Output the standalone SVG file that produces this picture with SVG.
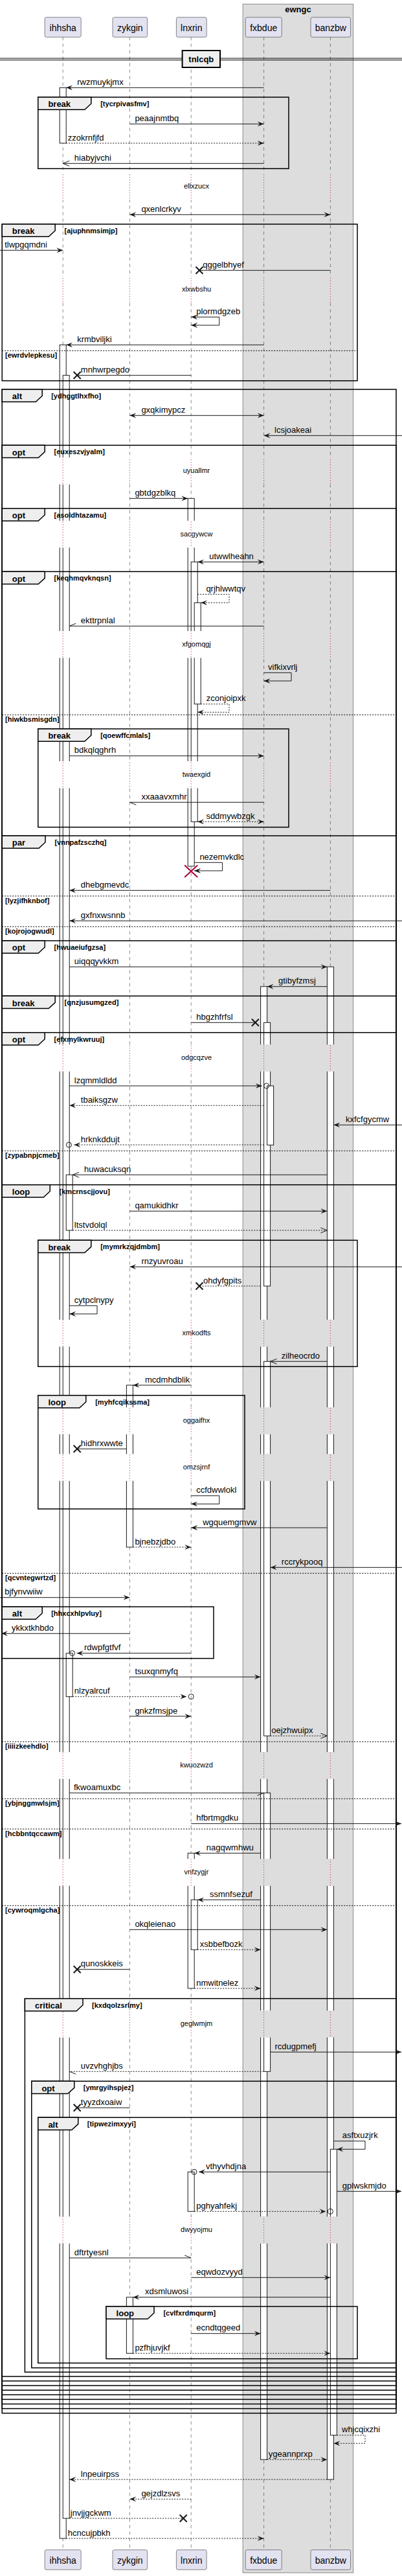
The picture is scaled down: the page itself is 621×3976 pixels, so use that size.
<svg xmlns="http://www.w3.org/2000/svg" width="621" height="3976" viewBox="0 0 621 3976">
<defs>
<style>
.pb{fill:#E2E2F0;stroke:#181818;stroke-width:0.5}
.pt{font-family:"Liberation Sans",Arial,sans-serif;font-size:14px;text-anchor:middle;fill:#000}
.ll{stroke:#181818;stroke-width:0.5;stroke-dasharray:5 5;fill:none}
.dl{stroke:#A80036;stroke-width:1;stroke-dasharray:1 3;fill:none}
.act{fill:#fff;stroke:#181818;stroke-width:1}
.fr{fill:none;stroke:#000;stroke-width:1.5}
.tab{fill:#EEEEEE;stroke:#000;stroke-width:1.5}
.sep{stroke:#000;stroke-width:1;stroke-dasharray:2 2;fill:none}
.fl{font-family:"Liberation Sans",Arial,sans-serif;font-size:13px;font-weight:bold;fill:#000}
.gd{font-family:"Liberation Sans",Arial,sans-serif;font-size:11px;font-weight:bold;fill:#000}
.ms{font-family:"Liberation Sans",Arial,sans-serif;font-size:13px;fill:#000}
.dt{font-family:"Liberation Sans",Arial,sans-serif;font-size:11px;text-anchor:middle;fill:#000}
.c{fill:none;stroke:#181818;stroke-width:1}
.d{stroke-dasharray:2 2}
.x{stroke:#181818;stroke-width:2;fill:none}
.oc{fill:none;stroke:#181818;stroke-width:1}
</style>
<marker id="af" viewBox="0 0 10 8" refX="10" refY="4" markerWidth="10" markerHeight="8" markerUnits="userSpaceOnUse" orient="auto-start-reverse"><path d="M0 0L10 4L0 8L4 4Z" fill="#181818"/></marker>
<marker id="ao" viewBox="0 0 10 8" refX="10" refY="4" markerWidth="10" markerHeight="8" markerUnits="userSpaceOnUse" orient="auto" overflow="visible"><path d="M0 0L10 4L0 8" fill="none" stroke="#181818" stroke-width="1"/></marker>
<marker id="ht" viewBox="0 0 10 8" refX="10" refY="4" markerWidth="10" markerHeight="8" markerUnits="userSpaceOnUse" orient="auto" overflow="visible"><path d="M0 0L10 4" fill="none" stroke="#181818" stroke-width="1"/></marker>
<marker id="hb" viewBox="0 0 10 8" refX="10" refY="4" markerWidth="10" markerHeight="8" markerUnits="userSpaceOnUse" orient="auto" overflow="visible"><path d="M0 8L10 4" fill="none" stroke="#181818" stroke-width="1"/></marker>
<clipPath id="nd" clipPathUnits="userSpaceOnUse">
<rect x="0" y="0" width="621" height="267.3"/>
<rect x="0" y="308.8" width="621" height="117.2"/>
<rect x="0" y="467.5" width="621" height="238.8"/>
<rect x="0" y="747.8" width="621" height="55.9"/>
<rect x="0" y="845.2" width="621" height="128.8"/>
<rect x="0" y="1015.5" width="621" height="159.5"/>
<rect x="0" y="1216.5" width="621" height="395.8"/>
<rect x="0" y="1653.8" width="621" height="383.2"/>
<rect x="0" y="2078.5" width="621" height="93.8"/>
<rect x="0" y="2213.8" width="621" height="30.5"/>
<rect x="0" y="2285.8" width="621" height="418.5"/>
<rect x="0" y="2745.8" width="621" height="123.5"/>
<rect x="0" y="2910.8" width="621" height="192.5"/>
<rect x="0" y="3144.8" width="621" height="276.5"/>
<rect x="0" y="3462.8" width="621" height="513.2"/>
</clipPath>
<clipPath id="dz" clipPathUnits="userSpaceOnUse">
<rect x="0" y="267.3" width="621" height="41.5"/>
<rect x="0" y="426" width="621" height="41.5"/>
<rect x="0" y="706.3" width="621" height="41.5"/>
<rect x="0" y="803.7" width="621" height="41.5"/>
<rect x="0" y="974" width="621" height="41.5"/>
<rect x="0" y="1175" width="621" height="41.5"/>
<rect x="0" y="1612.3" width="621" height="41.5"/>
<rect x="0" y="2037" width="621" height="41.5"/>
<rect x="0" y="2172.3" width="621" height="41.5"/>
<rect x="0" y="2244.3" width="621" height="41.5"/>
<rect x="0" y="2704.3" width="621" height="41.5"/>
<rect x="0" y="2869.3" width="621" height="41.5"/>
<rect x="0" y="3103.3" width="621" height="41.5"/>
<rect x="0" y="3421.3" width="621" height="41.5"/>
</clipPath>
</defs>
<rect x="0" y="0" width="621" height="3976" fill="#fff"/>
<g id="box-ewngc">
<rect x="375.2" y="6.3" width="170.4" height="3964.7" fill="#DDDDDD" stroke="#888" stroke-width="1"/>
<text class="fl" x="460.4" y="19" text-anchor="middle">ewngc</text>
</g>
<g id="lifelines">
<g clip-path="url(#nd)">
<line class="ll" x1="97.2" y1="57.3" x2="97.2" y2="3935.7"/>
<line class="ll" x1="200.4" y1="57.3" x2="200.4" y2="3935.7"/>
<line class="ll" x1="295.2" y1="57.3" x2="295.2" y2="3935.7"/>
<line class="ll" x1="407.6" y1="57.3" x2="407.6" y2="3935.7"/>
<line class="ll" x1="510.4" y1="57.3" x2="510.4" y2="3935.7"/>
</g>
<g clip-path="url(#dz)">
<line class="dl" x1="97.2" y1="57.3" x2="97.2" y2="3935.7"/>
<line class="dl" x1="200.4" y1="57.3" x2="200.4" y2="3935.7"/>
<line class="dl" x1="295.2" y1="57.3" x2="295.2" y2="3935.7"/>
<line class="dl" x1="407.6" y1="57.3" x2="407.6" y2="3935.7"/>
<line class="dl" x1="510.4" y1="57.3" x2="510.4" y2="3935.7"/>
</g>
<g id="delays">
<text class="dt" x="303.5" y="291.3">ellxzucx</text>
<text class="dt" x="303.5" y="450">xlxwbshu</text>
<text class="dt" x="303.5" y="730.3">uyuallmr</text>
<text class="dt" x="303.5" y="827.7">sacgywcw</text>
<text class="dt" x="303.5" y="998">xfgomqgj</text>
<text class="dt" x="303.5" y="1199">twaexgid</text>
<text class="dt" x="303.5" y="1636.3">odgcqzve</text>
<text class="dt" x="303.5" y="2061">xmkodfts</text>
<text class="dt" x="303.5" y="2196.3">oggaifhx</text>
<text class="dt" x="303.5" y="2268.3">omzsjrnf</text>
<text class="dt" x="303.5" y="2728.3">kwuozwzd</text>
<text class="dt" x="303.5" y="2893.3">vnfzygjr</text>
<text class="dt" x="303.5" y="3127.3">geglwmjm</text>
<text class="dt" x="303.5" y="3445.3">dwyyojmu</text>
</g>
</g>
<g id="activations" clip-path="url(#nd)">
<rect class="act" x="92.2" y="135.3" width="10" height="85.7"/>
<rect class="act" x="92.2" y="532.3" width="10" height="3385.7"/>
<rect class="act" x="97.2" y="579.3" width="10" height="3307.7"/>
<rect class="act" x="102.2" y="1813.3" width="10" height="85.7"/>
<rect class="act" x="102.2" y="2551.7" width="10" height="67"/>
<rect class="act" x="195.4" y="2138" width="10" height="250"/>
<rect class="act" x="195.4" y="3545.7" width="10" height="86.6"/>
<rect class="act" x="290.2" y="769.3" width="10" height="567.7"/>
<rect class="act" x="295.2" y="867.3" width="10" height="401"/>
<rect class="act" x="300.2" y="930.3" width="10" height="156.4"/>
<rect class="act" x="290.2" y="2860.3" width="10" height="208.7"/>
<rect class="act" x="295.2" y="2932.3" width="10" height="77"/>
<rect class="act" x="290.2" y="3352.3" width="10" height="61"/>
<rect class="act" x="402.6" y="1522.7" width="10" height="2273.6"/>
<rect class="act" x="407.6" y="1578.3" width="10" height="406.7"/>
<rect class="act" x="412.6" y="1676" width="10" height="91.3"/>
<rect class="act" x="407.6" y="2101.3" width="10" height="578"/>
<rect class="act" x="407.6" y="2767.3" width="10" height="430"/>
<rect class="act" x="505.4" y="1492.3" width="10" height="2334.7"/>
<rect class="act" x="510.4" y="3317.3" width="10" height="441.4"/>
</g>
<g id="divider-tnlcqb">
<line x1="0" y1="90" x2="621" y2="90" stroke="#000" stroke-width="1"/>
<line x1="0" y1="92.7" x2="621" y2="92.7" stroke="#000" stroke-width="1"/>
<rect x="281.6" y="78" width="58.4" height="26" fill="#EEEEEE" stroke="#000" stroke-width="2"/>
<text class="fl" x="310.8" y="96.3" text-anchor="middle">tnlcqb</text>
</g>
<g id="frames">
<g id="f1"><rect class="fr" x="58.8" y="150" width="387.2" height="110.3"/><path class="tab" d="M58.8 150H140.8V160L130.8 169.3H58.8Z"/><text class="fl" x="74.4" y="165.3">break</text><text class="gd" x="155.2" y="164">[tycrpivasfmv]</text></g>
<g id="f2"><rect class="fr" x="3.2" y="346" width="548.8" height="241.7"/><path class="tab" d="M3.2 346H85.2V356L75.2 365.3H3.2Z"/><text class="fl" x="18.8" y="361.3">break</text><text class="gd" x="99.6" y="360">[ajuphnmsimjp]</text><line class="sep" x1="3.2" y1="541.3" x2="552" y2="541.3"/><text class="gd" x="8" y="552.3">[ewrdvlepkesu]</text></g>
<g id="f3"><rect class="fr" x="3.2" y="601" width="608.8" height="3123.7"/><path class="tab" d="M3.2 601H65.2V611L55.2 620.3H3.2Z"/><text class="fl" x="18.8" y="616.3">alt</text><text class="gd" x="79.2" y="615">[ydhggtlhxfho]</text></g>
<g id="f4"><rect class="fr" x="3.2" y="687.3" width="608.8" height="3030.3"/><path class="tab" d="M3.2 687.3H69.2V697.3L59.2 706.6H3.2Z"/><text class="fl" x="18.8" y="702.6">opt</text><text class="gd" x="83.6" y="701.3">[euxeszvjyalm]</text></g>
<g id="f5"><rect class="fr" x="3.2" y="784.7" width="608.8" height="2925.8"/><path class="tab" d="M3.2 784.7H69.2V794.7L59.2 804H3.2Z"/><text class="fl" x="18.8" y="800">opt</text><text class="gd" x="83.6" y="798.7">[asoldhtazamu]</text></g>
<g id="f6"><rect class="fr" x="3.2" y="882.3" width="608.8" height="2821.1"/><path class="tab" d="M3.2 882.3H69.2V892.3L59.2 901.6H3.2Z"/><text class="fl" x="18.8" y="897.6">opt</text><text class="gd" x="83.6" y="896.3">[keqhmqvknqsn]</text><line class="sep" x1="3.2" y1="1103.3" x2="612" y2="1103.3"/><text class="gd" x="8" y="1114.3">[hiwkbsmisgdn]</text></g>
<g id="f7"><rect class="fr" x="58.8" y="1125" width="387.2" height="151.7"/><path class="tab" d="M58.8 1125H140.8V1135L130.8 1144.3H58.8Z"/><text class="fl" x="74.4" y="1140.3">break</text><text class="gd" x="155.2" y="1139">[qoewffcmlals]</text></g>
<g id="f8"><rect class="fr" x="3.2" y="1290" width="608.8" height="2406.3"/><path class="tab" d="M3.2 1290H70V1300L60 1309.3H3.2Z"/><text class="fl" x="18.8" y="1305.3">par</text><text class="gd" x="84.4" y="1304">[vnnpafzsczhq]</text><line class="sep" x1="3.2" y1="1383" x2="612" y2="1383"/><text class="gd" x="8" y="1394">[lyzjifhknbof]</text><line class="sep" x1="3.2" y1="1430.3" x2="612" y2="1430.3"/><text class="gd" x="8" y="1441.3">[kojrojogwudl]</text></g>
<g id="f9"><rect class="fr" x="3.2" y="1452" width="608.8" height="2237.2"/><path class="tab" d="M3.2 1452H69.2V1462L59.2 1471.3H3.2Z"/><text class="fl" x="18.8" y="1467.3">opt</text><text class="gd" x="83.6" y="1466">[hwuaeiufgzsa]</text></g>
<g id="f10"><rect class="fr" x="3.2" y="1537.3" width="608.8" height="2144.8"/><path class="tab" d="M3.2 1537.3H85.2V1547.3L75.2 1556.6H3.2Z"/><text class="fl" x="18.8" y="1552.6">break</text><text class="gd" x="99.6" y="1551.3">[qnzjusumgzed]</text></g>
<g id="f11"><rect class="fr" x="3.2" y="1593.7" width="608.8" height="2081.3"/><path class="tab" d="M3.2 1593.7H69.2V1603.7L59.2 1613H3.2Z"/><text class="fl" x="18.8" y="1609">opt</text><text class="gd" x="83.6" y="1607.7">[efxmylkwruuj]</text><line class="sep" x1="3.2" y1="1776.3" x2="612" y2="1776.3"/><text class="gd" x="8" y="1787.3">[zypabnpjcmeb]</text></g>
<g id="f12"><rect class="fr" x="3.2" y="1828.7" width="608.8" height="1839.3"/><path class="tab" d="M3.2 1828.7H77.2V1838.7L67.2 1848H3.2Z"/><text class="fl" x="18.8" y="1844">loop</text><text class="gd" x="91.6" y="1842.7">[kmcrnscjjovu]</text>
<line class="sep" x1="3.2" y1="2428.3" x2="612" y2="2428.3"/><text class="gd" x="8" y="2439.3">[qcvntegwrtzd]</text>
<line class="sep" x1="3.2" y1="2688.3" x2="612" y2="2688.3"/><text class="gd" x="8" y="2699.3">[iiiizkeehdlo]</text>
<line class="sep" x1="3.2" y1="2776.3" x2="612" y2="2776.3"/><text class="gd" x="8" y="2787.3">[ybjnggmwlsjm]</text>
<line class="sep" x1="3.2" y1="2823" x2="612" y2="2823"/><text class="gd" x="8" y="2834">[hcbbntqccawm]</text>
<line class="sep" x1="3.2" y1="2941.3" x2="612" y2="2941.3"/><text class="gd" x="8" y="2952.3">[cywroqmlgcha]</text></g>
<g id="f13"><rect class="fr" x="58.8" y="1914.3" width="493.2" height="195"/><path class="tab" d="M58.8 1914.3H140.8V1924.3L130.8 1933.6H58.8Z"/><text class="fl" x="74.4" y="1929.6">break</text><text class="gd" x="155.2" y="1928.3">[mymrkzqjdmbm]</text></g>
<g id="f14"><rect class="fr" x="58.8" y="2153.7" width="319.2" height="175.3"/><path class="tab" d="M58.8 2153.7H132.8V2163.7L122.8 2173H58.8Z"/><text class="fl" x="74.4" y="2169">loop</text><text class="gd" x="147.2" y="2167.7">[myhfcqikssma]</text></g>
<g id="f15"><rect class="fr" x="3.2" y="2480" width="326.8" height="79.7"/><path class="tab" d="M3.2 2480H65.2V2490L55.2 2499.3H3.2Z"/><text class="fl" x="18.8" y="2495.3">alt</text><text class="gd" x="79.2" y="2494">[hhxcxhlpvluy]</text></g>
<g id="f16"><rect class="fr" x="38.4" y="3084.7" width="573.6" height="576.6"/><path class="tab" d="M38.4 3084.7H128V3094.7L118 3104H38.4Z"/><text class="fl" x="54" y="3100">critical</text><text class="gd" x="142" y="3098.7">[kxdqolzsrlmy]</text></g>
<g id="f17"><rect class="fr" x="48.8" y="3212.3" width="563.2" height="442.4"/><path class="tab" d="M48.8 3212.3H114.8V3222.3L104.8 3231.6H48.8Z"/><text class="fl" x="64.4" y="3227.6">opt</text><text class="gd" x="128.8" y="3226.3">[ymrgyihspjez]</text></g>
<g id="f18"><rect class="fr" x="58.8" y="3268.3" width="553.2" height="379"/><path class="tab" d="M58.8 3268.3H120.8V3278.3L110.8 3287.6H58.8Z"/><text class="fl" x="74.4" y="3283.6">alt</text><text class="gd" x="134.8" y="3282.3">[tipwezimxyyi]</text></g>
<g id="f19"><rect class="fr" x="164" y="3560" width="388" height="80.7"/><path class="tab" d="M164 3560H238V3570L228 3579.3H164Z"/><text class="fl" x="179.6" y="3575.3">loop</text><text class="gd" x="252.4" y="3574">[cvlfxrdmqurm]</text></g>
</g>
<g id="connectors">
<g><path class="c" d="M407.6 135.3H102.2" marker-end="url(#af)"/><text class="ms" x="119.2" y="130.8">rwzmuykjmx</text></g>
<g><path class="c" d="M200.4 191.3H407.6" marker-end="url(#af)"/><text class="ms" x="208.4" y="186.8">peaajnmtbq</text></g>
<g><path class="c d" d="M102.2 221H407.6" marker-end="url(#af)"/><text class="ms" x="104.8" y="216.5">zzokrnfjfd</text></g>
<g><path class="c" d="M407.6 252.3H97.2" marker-end="url(#ao)"/><text class="ms" x="114.8" y="247.8">hiabyjvchi</text></g>
<g><path class="c" d="M200.4 331.3H510.4" marker-start="url(#af)" marker-end="url(#af)"/><text class="ms" x="218.4" y="326.8">qxenlcrkyv</text></g>
<g><path class="c" d="M0 386.3H97.2" marker-end="url(#af)"/><text class="ms" x="7.2" y="381.8">tlwpgqmdni</text></g>
<g><path class="c" d="M510.4 417.3H308"/><path class="x" d="M302.5 411.8l11 11m0-11l-11 11"/><text class="ms" x="313.2" y="412.8">qggelbhyef</text></g>
<g><path class="c" d="M295.2 489.3H338.8V502H295.2" marker-start="url(#af)" marker-end="url(#af)"/><text class="ms" x="303.2" y="484.8">plormdgzeb</text></g>
<g><path class="c" d="M407.6 532.3H102.2" marker-end="url(#af)"/><text class="ms" x="119.2" y="527.8">krmbviljki</text></g>
<g><path class="c" d="M295.2 579.3H119.2"/><path class="x" d="M113.7 573.8l11 11m0-11l-11 11"/><text class="ms" x="124.8" y="574.8">mnhwrpegdo</text></g>
<g><path class="c" d="M200.4 641.3H407.6" marker-start="url(#af)" marker-end="url(#af)"/><text class="ms" x="218.4" y="636.8">gxqkimypcz</text></g>
<g><path class="c" d="M621 672.3H407.6" marker-end="url(#af)"/><text class="ms" x="424" y="667.8">lcsjoakeai</text></g>
<g><path class="c" d="M200.4 769.3H290.2" marker-end="url(#af)"/><text class="ms" x="208.4" y="764.8">gbtdgzblkq</text></g>
<g><path class="c" d="M305.2 867.3H407.6" marker-start="url(#af)" marker-end="url(#af)"/><text class="ms" x="323.2" y="862.8">utwwlheahn</text></g>
<g><path class="c d" d="M305.2 917.3H354V930.3H310.2" marker-end="url(#af)"/><text class="ms" x="318.4" y="912.8">qrjhlwwtqv</text></g>
<g><path class="c" d="M407.6 966.3H107.2" marker-end="url(#hb)"/><text class="ms" x="124.8" y="961.8">ekttrpnlal</text></g>
<g><path class="c" d="M407.6 1038.3H450V1051H407.6" marker-end="url(#af)"/><text class="ms" x="414" y="1033.8">vifkixvrlj</text></g>
<g><path class="c d" d="M310.2 1086.7H354V1099.3H305.2" marker-end="url(#af)"/><text class="ms" x="318.8" y="1082.2">zconjoipxk</text></g>
<g><path class="c" d="M107.2 1166.7H407.6" marker-end="url(#af)"/><text class="ms" x="114.8" y="1162.2">bdkqlqghrh</text></g>
<g><path class="c" d="M407.6 1238.3H200.4" marker-end="url(#ht)"/><text class="ms" x="218.4" y="1233.8">xxaaavxmhr</text></g>
<g><path class="c d" d="M305.2 1268.3H407.6" marker-start="url(#af)" marker-end="url(#af)"/><text class="ms" x="318.4" y="1263.8">sddmywbzgk</text></g>
<g><path class="c" d="M300.2 1331.3H343.6V1344H300.2" marker-end="url(#af)"/><text class="ms" x="308.4" y="1326.8">nezemvkdlc</text><path d="M285.2 1335.4l20 18.6m0-18.6l-20 18.6" stroke="#A80036" stroke-width="2" fill="none"/></g>
<g><path class="c" d="M510.4 1374.3H107.2" marker-end="url(#af)"/><text class="ms" x="124.8" y="1369.8">dhebgmevdc</text></g>
<g><path class="c" d="M621 1421.3H107.2" marker-end="url(#af)"/><text class="ms" x="124.8" y="1416.8">gxfnxwsnnb</text></g>
<g><path class="c" d="M107.2 1492.3H505.4" marker-end="url(#af)"/><text class="ms" x="114.8" y="1487.8">uiqqqyvkkm</text></g>
<g><path class="c" d="M505.4 1522.7H412.6" marker-end="url(#af)"/><text class="ms" x="430" y="1518.2">gtibyfzmsj</text></g>
<g><path class="c" d="M295.2 1578.3H394.4"/><path class="x" d="M388.9 1572.8l11 11m0-11l-11 11"/><text class="ms" x="303.2" y="1573.8">hbgzhfrfsl</text></g>
<g><path class="c" d="M107.2 1676H404.6" marker-end="url(#af)"/><circle class="oc" cx="411.6" cy="1676" r="4"/><text class="ms" x="114.8" y="1671.5">lzqmmldldd</text></g>
<g><path class="c d" d="M407.6 1706.3H107.2" marker-end="url(#af)"/><text class="ms" x="124.8" y="1701.8">tbaiksgzw</text></g>
<g><path class="c" d="M621 1736.3H515.4" marker-end="url(#af)"/><text class="ms" x="534" y="1731.8">kxfcfgycmw</text></g>
<g><path class="c d" d="M407.6 1767H114.4" marker-end="url(#af)"/><circle class="oc" cx="106.4" cy="1767" r="4"/><text class="ms" x="124.8" y="1762.5">hrknkddujt</text></g>
<g><path class="c" d="M505.4 1813.3H112.2" marker-end="url(#ao)"/><text class="ms" x="130" y="1808.8">huwacuksqn</text></g>
<g><path class="c" d="M200.4 1869.3H505.4" marker-end="url(#af)"/><text class="ms" x="208.4" y="1864.8">qamukidhkr</text></g>
<g><path class="c d" d="M112.2 1899H505.4" marker-end="url(#ao)"/><text class="ms" x="114.8" y="1894.5">ltstvdolql</text></g>
<g><path class="c" d="M621 1955.3H200.4" marker-end="url(#af)"/><text class="ms" x="218.4" y="1950.8">rnzyuvroau</text></g>
<g><path class="c d" d="M402.6 1985H308"/><path class="x" d="M302.5 1979.5l11 11m0-11l-11 11"/><text class="ms" x="314" y="1980.5">ohdyfgpits</text></g>
<g><path class="c" d="M107.2 2015.3H150V2028H107.2" marker-end="url(#af)"/><text class="ms" x="114.8" y="2010.8">cytpclnypy</text></g>
<g><path class="c" d="M505.4 2101.3H417.6" marker-end="url(#ao)"/><text class="ms" x="434.8" y="2096.8">zilheocrdo</text></g>
<g><path class="c" d="M295.2 2138H205.4" marker-end="url(#af)"/><text class="ms" x="224" y="2133.5">mcdmhdblik</text></g>
<g><path class="c" d="M195.4 2236.3H119.2"/><path class="x" d="M113.7 2230.8l11 11m0-11l-11 11"/><text class="ms" x="124.8" y="2231.8">hidhrxwwte</text></g>
<g><path class="c" d="M295.2 2308.7H338.8V2321.3H295.2" marker-end="url(#af)"/><text class="ms" x="303.2" y="2304.2">ccfdwwlokl</text></g>
<g><path class="c" d="M505.4 2358H295.2" marker-end="url(#af)"/><text class="ms" x="313.2" y="2353.5">wgquemgmvw</text></g>
<g><path class="c d" d="M205.4 2388H295.2" marker-end="url(#af)"/><text class="ms" x="208.4" y="2383.5">bjnebzjdbo</text></g>
<g><path class="c" d="M621 2419.3H417.6" marker-end="url(#af)"/><text class="ms" x="434.8" y="2414.8">rccrykpooq</text></g>
<g><path class="c" d="M0 2465.7H200.4" marker-end="url(#af)"/><text class="ms" x="7.2" y="2461.2">bjfynvwiiw</text></g>
<g><path class="c" d="M200.4 2521.3H2" marker-end="url(#af)"/><text class="ms" x="18" y="2516.8">ykkxtkhbdo</text></g>
<g><path class="c" d="M295.2 2551.7H118.6" marker-end="url(#af)"/><circle class="oc" cx="111.6" cy="2551.7" r="4"/><text class="ms" x="130" y="2547.2">rdwpfgtfvf</text></g>
<g><path class="c" d="M200.4 2588.3H402.6" marker-end="url(#af)"/><text class="ms" x="208.4" y="2583.8">tsuxqnmyfq</text></g>
<g><path class="c d" d="M112.2 2618.7H288.2" marker-end="url(#af)"/><circle class="oc" cx="295.2" cy="2618.7" r="4"/><text class="ms" x="114.8" y="2614.2">nlzyalrcuf</text></g>
<g><path class="c" d="M200.4 2649H295.2" marker-end="url(#af)"/><text class="ms" x="208.4" y="2644.5">gnkzfmsjpe</text></g>
<g><path class="c d" d="M417.6 2679.3H505.4" marker-end="url(#ao)"/><text class="ms" x="419.2" y="2674.8">oejzhwuipx</text></g>
<g><path class="c" d="M107.2 2767.3H407.6" marker-end="url(#hb)"/><text class="ms" x="114" y="2762.8">fkwoamuxbc</text></g>
<g><path class="c" d="M295.2 2814.7H620" marker-end="url(#af)"/><text class="ms" x="303.2" y="2810.2">hfbrtmgdku</text></g>
<g><path class="c" d="M402.6 2860.3H300.2" marker-end="url(#af)"/><text class="ms" x="318.8" y="2855.8">nagqwmhwu</text></g>
<g><path class="c" d="M402.6 2932.3H305.2" marker-end="url(#af)"/><text class="ms" x="324" y="2927.8">ssmnfsezuf</text></g>
<g><path class="c" d="M200.4 2978.3H505.4" marker-end="url(#af)"/><text class="ms" x="208.4" y="2973.8">okqleienao</text></g>
<g><path class="c d" d="M305.2 3009.3H402.6" marker-end="url(#af)"/><text class="ms" x="308.8" y="3004.8">xsbbefbozk</text></g>
<g><path class="c" d="M200.4 3039.7H119.2"/><path class="x" d="M113.7 3034.2l11 11m0-11l-11 11"/><text class="ms" x="124.8" y="3035.2">qunoskkeis</text></g>
<g><path class="c d" d="M300.2 3069H402.6" marker-end="url(#af)"/><text class="ms" x="303.2" y="3064.5">nmwitnelez</text></g>
<g><path class="c" d="M417.6 3167.3H620" marker-end="url(#af)"/><text class="ms" x="424.4" y="3162.8">rcdugpmefj</text></g>
<g><path class="c d" d="M407.6 3197.3H107.2" marker-end="url(#ht)"/><text class="ms" x="124.8" y="3192.8">uvzvhghjbs</text></g>
<g><path class="c" d="M200.4 3253.3H119.2"/><path class="x" d="M113.7 3247.8l11 11m0-11l-11 11"/><text class="ms" x="124.8" y="3248.8">tyyzdxoaiw</text></g>
<g><path class="c" d="M515.4 3304.7H564V3317.3H520.4" marker-end="url(#af)"/><text class="ms" x="528.8" y="3300.2">asftxuzjrk</text></g>
<g><path class="c" d="M510.4 3352.3H307" marker-end="url(#af)"/><circle class="oc" cx="300" cy="3352.3" r="4"/><text class="ms" x="318" y="3347.8">vthyvhdjna</text></g>
<g><path class="c" d="M520.4 3382.3H620" marker-end="url(#af)"/><text class="ms" x="528.8" y="3377.8">gplwskmjdo</text></g>
<g><path class="c d" d="M300.2 3413.3H503.4" marker-end="url(#af)"/><circle class="oc" cx="510.4" cy="3413.3" r="4"/><text class="ms" x="303.2" y="3408.8">pghyahfekj</text></g>
<g><path class="c" d="M107.2 3485H295.2" marker-end="url(#ht)"/><text class="ms" x="114.8" y="3480.5">dftrtyesnl</text></g>
<g><path class="c" d="M295.2 3515.3H510.4" marker-end="url(#af)"/><text class="ms" x="303.2" y="3510.8">eqwdozvyyd</text></g>
<g><path class="c" d="M510.4 3545.7H205.4" marker-end="url(#af)"/><text class="ms" x="224" y="3541.2">xdsmluwosi</text></g>
<g><path class="c" d="M295.2 3601.7H402.6" marker-end="url(#af)"/><text class="ms" x="303.2" y="3597.2">ecndtqgeed</text></g>
<g><path class="c d" d="M205.4 3632.3H510.4" marker-end="url(#af)"/><text class="ms" x="208.4" y="3627.8">pzfhjuvjkf</text></g>
<g><path class="c d" d="M520.4 3758.7H564V3771.3H515.4" marker-end="url(#af)"/><text class="ms" x="528" y="3754.2">whjcqixzhi</text></g>
<g><path class="c d" d="M412.6 3796.3H505.4" marker-end="url(#af)"/><text class="ms" x="414.8" y="3791.8">ygeannprxp</text></g>
<g><path class="c d" d="M505.4 3827H107.2" marker-end="url(#af)"/><text class="ms" x="124.8" y="3822.5">lnpeuirpss</text></g>
<g><path class="c d" d="M295.2 3857.3H200.4" marker-end="url(#af)"/><text class="ms" x="218.4" y="3852.8">gejzdlzsvs</text></g>
<g><path class="c d" d="M107.2 3887H283.2"/><path class="x" d="M277.7 3881.5l11 11m0-11l-11 11"/><text class="ms" x="108.8" y="3882.5">jnvjjgckwm</text></g>
<g><path class="c d" d="M102.2 3918H407.6" marker-end="url(#af)"/><text class="ms" x="104.8" y="3913.5">hcncujpbkh</text></g>
</g>
<g id="p-ihhsha"><rect class="pb" x="69.2" y="26.7" width="56" height="30.6" rx="2.5"/><text class="pt" x="97.2" y="48">ihhsha</text><rect class="pb" x="69.2" y="3935.7" width="56" height="30.6" rx="2.5"/><text class="pt" x="97.2" y="3957">ihhsha</text></g>
<g id="p-zykgin"><rect class="pb" x="174" y="26.7" width="53.6" height="30.6" rx="2.5"/><text class="pt" x="200.8" y="48">zykgin</text><rect class="pb" x="174" y="3935.7" width="53.6" height="30.6" rx="2.5"/><text class="pt" x="200.8" y="3957">zykgin</text></g>
<g id="p-lnxrin"><rect class="pb" x="272.4" y="26.7" width="46.8" height="30.6" rx="2.5"/><text class="pt" x="295.8" y="48">lnxrin</text><rect class="pb" x="272.4" y="3935.7" width="46.8" height="30.6" rx="2.5"/><text class="pt" x="295.8" y="3957">lnxrin</text></g>
<g id="p-fxbdue"><rect class="pb" x="379.2" y="26.7" width="56" height="30.6" rx="2.5"/><text class="pt" x="407.2" y="48">fxbdue</text><rect class="pb" x="379.2" y="3935.7" width="56" height="30.6" rx="2.5"/><text class="pt" x="407.2" y="3957">fxbdue</text></g>
<g id="p-banzbw"><rect class="pb" x="480" y="26.7" width="61.6" height="30.6" rx="2.5"/><text class="pt" x="510.8" y="48">banzbw</text><rect class="pb" x="480" y="3935.7" width="61.6" height="30.6" rx="2.5"/><text class="pt" x="510.8" y="3957">banzbw</text></g>
</svg>
